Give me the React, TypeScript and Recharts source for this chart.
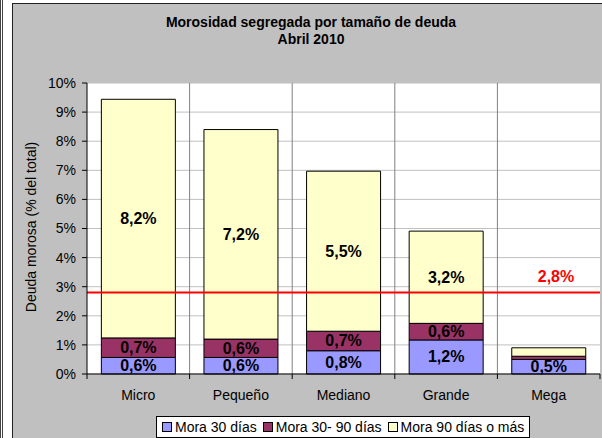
import { BarChart, Bar, XAxis, YAxis, CartesianGrid, ReferenceLine, LabelList } from 'recharts';

const categories = ['Micro', 'Pequeño', 'Mediano', 'Grande', 'Mega'];
const mora30 = [0.57, 0.57, 0.8, 1.17, 0.5];
const mora3090 = [0.67, 0.63, 0.67, 0.57, 0.11];
const mora90 = [8.2, 7.2, 5.5, 3.17, 0.29];
const yTicks = [0, 1, 2, 3, 4, 5, 6, 7, 8, 9, 10];
const promedio = 2.8;

const series = [
  { key: 'mora30', name: 'Mora 30 días', color: '#9999FF' },
  { key: 'mora3090', name: 'Mora 30- 90 días', color: '#993366' },
  { key: 'mora90', name: 'Mora 90 días o más', color: '#FFFFCC' },
];

const data = categories.map((name, i) => ({
  name,
  mora30: mora30[i],
  mora3090: mora3090[i],
  mora90: mora90[i],
}));

const FONT = 'Arial, "Liberation Sans", sans-serif';
const pct = (v: number) => `${v.toFixed(1).replace('.', ',')}%`;

const SegmentLabel = (props: any) => {
  const { x, y, width, height, value } = props;
  if (value < 0.35) return null;
  return (
    <text
      x={x + width / 2}
      y={y + height / 2}
      dy={5.5}
      textAnchor="middle"
      fontFamily={FONT}
      fontSize={16}
      fontWeight="bold"
      fill="#000"
    >
      {pct(value)}
    </text>
  );
};

const CategoryTick = (props: any) => {
  const { x, y, payload, index, width, visibleTicksCount } = props;
  const band = width / visibleTicksCount;
  return (
    <g>
      <line x1={x - band / 2} x2={x - band / 2} y1={y} y2={y + 5} stroke="#000" />
      {index === visibleTicksCount - 1 && (
        <line x1={x + band / 2} x2={x + band / 2} y1={y} y2={y + 5} stroke="#000" />
      )}
      <text x={x} y={y + 26} textAnchor="middle" fontFamily={FONT} fontSize={14} fill="#000">
        {payload.value}
      </text>
    </g>
  );
};

const PromedioLabel = (props: any) => {
  const { viewBox } = props;
  return (
    <text
      x={viewBox.x + viewBox.width - 44}
      y={viewBox.y - 11}
      textAnchor="middle"
      fontFamily={FONT}
      fontSize={16}
      fontWeight="bold"
      fill="#FF0000"
    >
      {pct(promedio)}
    </text>
  );
};

export default function App() {
  return (
    <div style={{ position: 'fixed', left: 0, top: 0, width: 602, height: 438, background: '#fff', overflow: 'hidden', fontFamily: FONT }}>
      <div style={{ position: 'absolute', left: 0, top: 0, width: 3, height: 438, borderLeft: '1px solid #444', borderRight: '1px solid #444', boxSizing: 'border-box' }} />
      <div style={{ position: 'absolute', left: 12, top: 3, width: 600, height: 450, background: '#C0C0C0', border: '1.5px solid #222', boxSizing: 'border-box' }} />
      <div style={{ position: 'absolute', left: 12, top: 14, width: 598, textAlign: 'center', fontSize: 14, fontWeight: 'bold', lineHeight: '17px', color: '#000' }}>
        Morosidad segregada por tamaño de deuda
        <br />
        Abril 2010
      </div>
      <div style={{ position: 'absolute', left: 31, top: 227, transform: 'translate(-50%, -50%) rotate(-90deg)', whiteSpace: 'nowrap', fontSize: 14, color: '#000' }}>
        Deuda morosa  (% del total)
      </div>
      <div style={{ position: 'absolute', left: 0, top: 0 }}>
        <BarChart width={602} height={438} data={data} margin={{ top: 83, right: 2, bottom: 0, left: 0 }} barCategoryGap="14%">
          <CartesianGrid vertical={false} stroke="#C0C0C0" fill="#FFFFFF" fillOpacity={1} />
          <CartesianGrid
            horizontal={false}
            stroke="#808080"
            verticalCoordinatesGenerator={({ offset }: any) =>
              categories.slice(1).map((_, i) => offset.left + ((i + 1) * offset.width) / categories.length)
            }
          />
          <XAxis
            dataKey="name"
            height={64}
            axisLine={{ stroke: '#000' }}
            tickLine={false}
            tickSize={0}
            tickMargin={0}
            interval={0}
            tick={<CategoryTick />}
          />
          <YAxis
            width={87}
            domain={[0, 10]}
            ticks={yTicks}
            interval={0}
            tickFormatter={(v: number) => `${v}%`}
            axisLine={{ stroke: '#000' }}
            tickLine={{ stroke: '#000' }}
            tickSize={5}
            tickMargin={6}
            tick={{ fontSize: 14, fill: '#000', fontFamily: FONT }}
          />
          {series.map((s) => (
            <Bar key={s.key} dataKey={s.key} name={s.name} stackId="a" fill={s.color} stroke="#000" strokeWidth={1} isAnimationActive={false}>
              <LabelList dataKey={s.key} content={<SegmentLabel />} />
            </Bar>
          ))}
          <ReferenceLine y={promedio} stroke="#FF0000" strokeWidth={2} label={<PromedioLabel />} />
        </BarChart>
      </div>
      <div style={{ position: 'absolute', left: 156, top: 416, height: 22, padding: '0 5px', background: '#fff', border: '1px solid #000', boxSizing: 'border-box', display: 'flex', alignItems: 'center', fontSize: 14, color: '#000', whiteSpace: 'nowrap' }}>
        {series.map((s, i) => (
          <span key={s.key} style={{ display: 'flex', alignItems: 'center', marginLeft: i === 0 ? 0 : 6 }}>
            <span style={{ display: 'inline-block', width: 8, height: 8, background: s.color, border: '1px solid #000', marginRight: 3 }} />
            {s.name}
          </span>
        ))}
      </div>
    </div>
  );
}
